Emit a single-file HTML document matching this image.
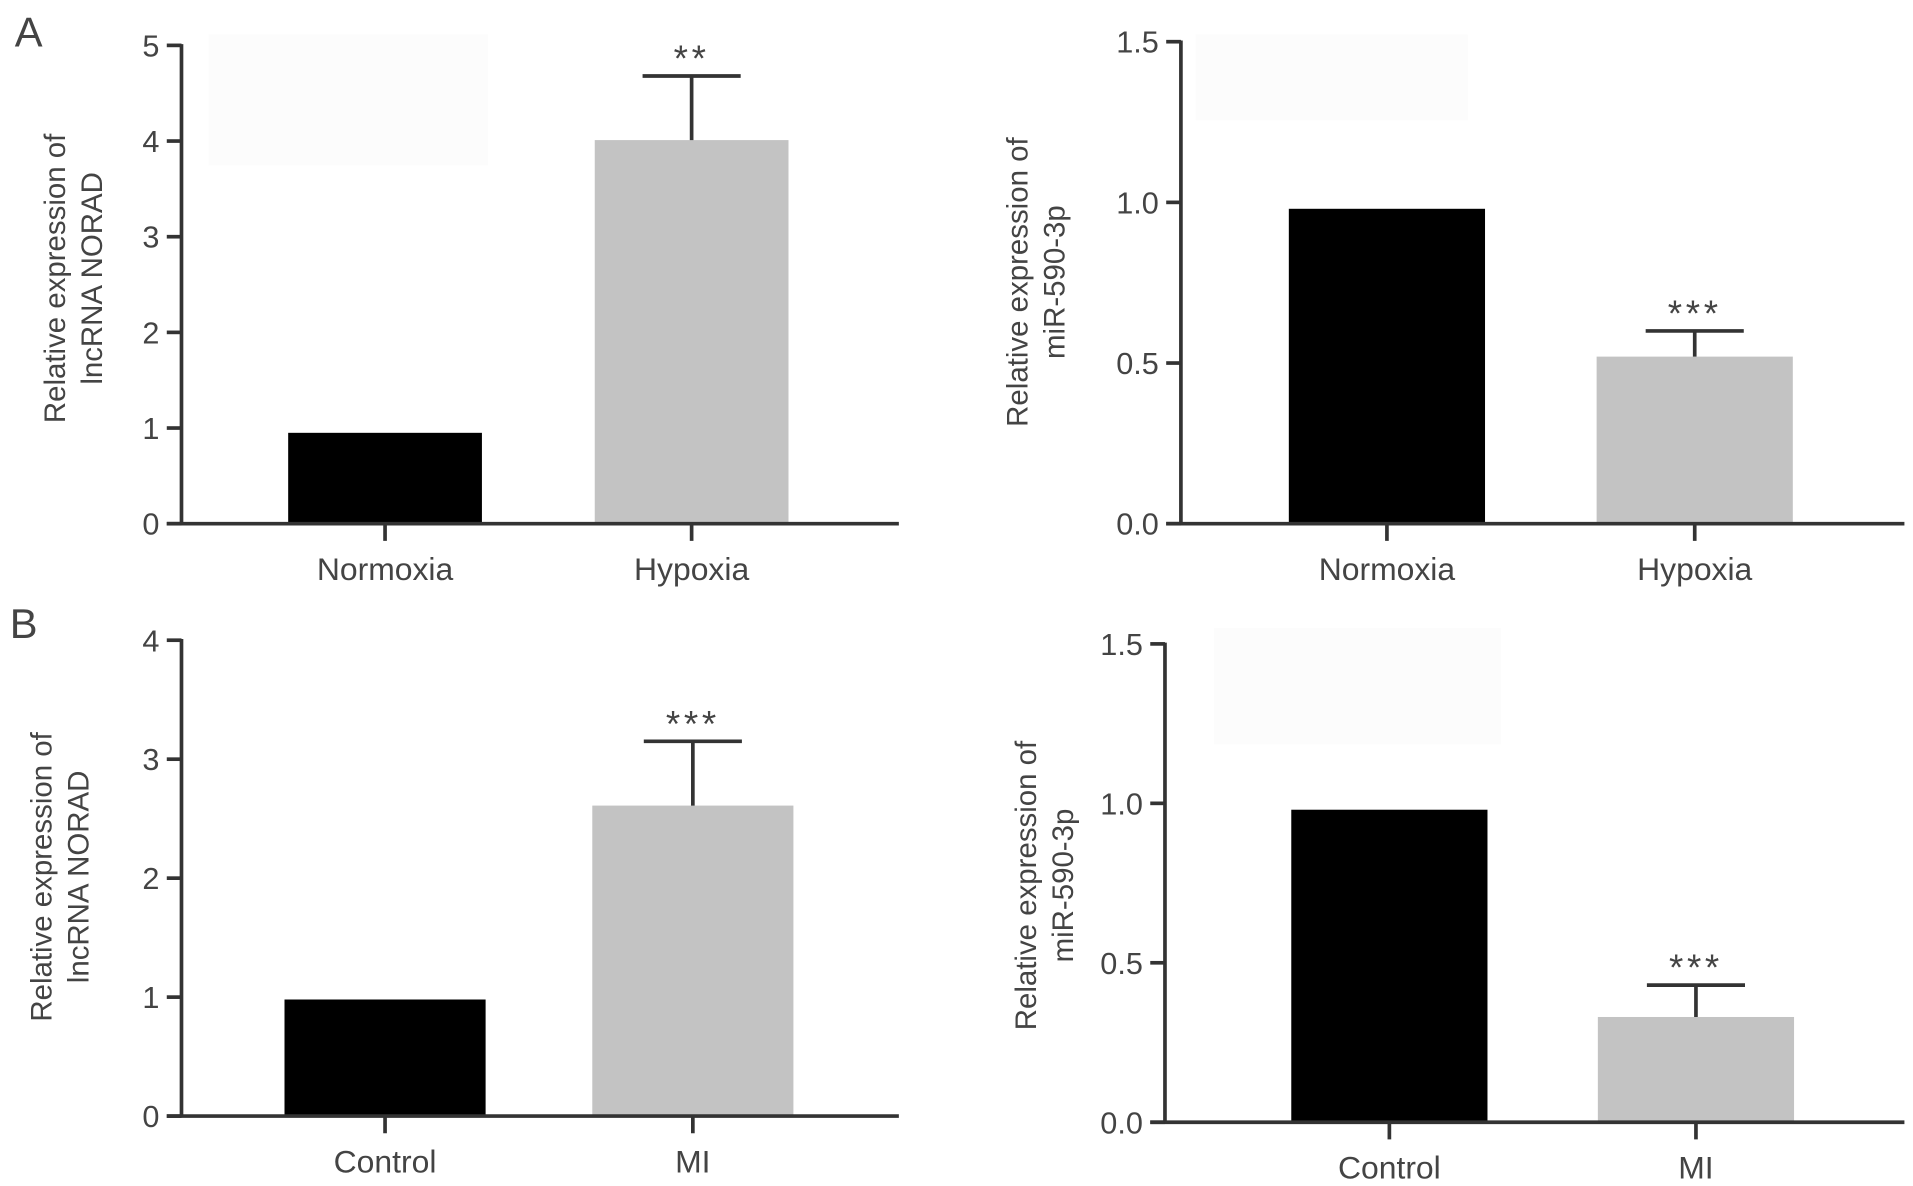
<!DOCTYPE html>
<html><head><meta charset="utf-8">
<style>
html,body{margin:0;padding:0;background:#fff;width:1913px;height:1186px;overflow:hidden}
svg{display:block}
text{font-family:"Liberation Sans",sans-serif;fill:#444}
.n{font-family:"Liberation Sans Narrow","Liberation Sans",sans-serif}
</style></head>
<body>
<svg id="fig" width="1913" height="1186" viewBox="0 0 1560 967" preserveAspectRatio="none" xmlns="http://www.w3.org/2000/svg">
<rect x="170" y="28" width="228" height="107" fill="#fcfcfc"/>
<rect x="975" y="28" width="222" height="70" fill="#fcfcfc"/>
<rect x="990" y="512" width="234" height="95" fill="#fcfcfc"/>
<text x="12" y="38" font-size="34">A</text>
<text x="8" y="520" font-size="34">B</text>
</svg>
<script>
// Panel A left
const aLeftCategories = ["Normoxia", "Hypoxia"];
const aLeftValues = [0.95, 4.01];
const aLeftErrors = [0, 0.67];
const aLeftTicks = ["0", "1", "2", "3", "4", "5"];
const aLeftTickValues = [0, 1, 2, 3, 4, 5];
const aLeftStars = ["", "**"];
// Panel A right
const aRightCategories = ["Normoxia", "Hypoxia"];
const aRightValues = [0.98, 0.52];
const aRightErrors = [0, 0.08];
const aRightTicks = ["0.0", "0.5", "1.0", "1.5"];
const aRightTickValues = [0, 0.5, 1.0, 1.5];
const aRightStars = ["", "***"];
// Panel B left
const bLeftCategories = ["Control", "MI"];
const bLeftValues = [0.98, 2.61];
const bLeftErrors = [0, 0.54];
const bLeftTicks = ["0", "1", "2", "3", "4"];
const bLeftTickValues = [0, 1, 2, 3, 4];
const bLeftStars = ["", "***"];
// Panel B right
const bRightCategories = ["Control", "MI"];
const bRightValues = [0.98, 0.33];
const bRightErrors = [0, 0.10];
const bRightTicks = ["0.0", "0.5", "1.0", "1.5"];
const bRightTickValues = [0, 0.5, 1.0, 1.5];
const bRightStars = ["", "***"];

const NS = "http://www.w3.org/2000/svg";
const svg = document.getElementById("fig");
function mk(tag, attrs, parent) {
  const e = document.createElementNS(NS, tag);
  for (const k in attrs) e.setAttribute(k, attrs[k]);
  (parent || svg).appendChild(e);
  return e;
}
const fills = ["#000", "#c3c3c3"];
function panel(p, cats, vals, errs, ticks, tickVals, stars) {
  const g = mk("g", {});
  
  
  const maxV = tickVals[tickVals.length - 1];
  const y = v => p.y0 - (v / maxV) * (p.y0 - p.yTop);
  const xc = i => p.cx[i];
  const ya = mk("line", {x1: p.ax, y1: p.yTop - 1, x2: p.ax, y2: p.y0 + 1, stroke: "#333", "stroke-width": 3}, g);
  
  
  vals.forEach((v, i) => {
    const r = mk("rect", {x: xc(i) - p.bw / 2, y: y(v), width: p.bw, height: p.y0 - y(v), fill: fills[i]}, g);
    
    
    if (errs[i] > 0) {
      const e1 = mk("line", {x1: xc(i), y1: y(v), x2: xc(i), y2: y(v + errs[i]), stroke: "#333", "stroke-width": 3}, g);
      
      
      const e2 = mk("line", {x1: xc(i) - 40, y1: y(v + errs[i]), x2: xc(i) + 40, y2: y(v + errs[i]), stroke: "#333", "stroke-width": 3}, g);
      
      
    }
    if (stars[i]) {
      const s = mk("text", {x: xc(i), y: y(v + errs[i]) - 4, "font-size": 30, "letter-spacing": 3, "text-anchor": "middle", fill: "#555"}, g);
      s.textContent = stars[i];
      
      
    }
    const tk = mk("line", {x1: xc(i), y1: p.y0, x2: xc(i), y2: p.y0 + 14, stroke: "#333", "stroke-width": 3}, g);
    
    
    const lb = mk("text", {x: xc(i), y: p.y0 + 46, "font-size": 26, "text-anchor": "middle", class: "n"}, g);
    lb.textContent = cats[i];
    
    
  });
  const xa = mk("line", {x1: p.ax - 12, y1: p.y0, x2: p.ax < 500 ? 733 : 1553, y2: p.y0, stroke: "#333", "stroke-width": 3}, g);
  
  
  tickVals.forEach((t, i) => {
    const tl = mk("line", {x1: p.ax - 12, y1: y(t), x2: p.ax, y2: y(t), stroke: "#333", "stroke-width": 3}, g);
    
    
    const tx = mk("text", {x: p.ax - 18, y: y(t) + 9, "font-size": 25, "text-anchor": "end", class: "n"}, g);
    tx.textContent = ticks[i];
    
    
  });
  const tt = mk("text", {transform: `translate(${p.tx},${p.ty}) rotate(-90)`, "font-size": 24, "text-anchor": "middle", fill: "#555"}, g);
  
  
  const t1 = mk("tspan", {x: 0, dy: 0}, tt); t1.textContent = "Relative expression of";
  const t2 = mk("tspan", {x: 0, dy: 30}, tt); t2.textContent = p.title2;
}
panel({name: "chart-a-left", ax: 148, y0: 427, yTop: 37, cx: [314, 564], bw: 158, tx: 53, ty: 227, title2: "lncRNA NORAD"},
  aLeftCategories, aLeftValues, aLeftErrors, aLeftTicks, aLeftTickValues, aLeftStars);
panel({name: "chart-a-right", ax: 963, y0: 427, yTop: 34, cx: [1131, 1382], bw: 160, tx: 838, ty: 230, title2: "miR-590-3p"},
  aRightCategories, aRightValues, aRightErrors, aRightTicks, aRightTickValues, aRightStars);
panel({name: "chart-b-left", ax: 148, y0: 910, yTop: 522, cx: [314, 565], bw: 164, tx: 42, ty: 715, title2: "lncRNA NORAD"},
  bLeftCategories, bLeftValues, bLeftErrors, bLeftTicks, bLeftTickValues, bLeftStars);
panel({name: "chart-b-right", ax: 950, y0: 915, yTop: 525, cx: [1133, 1383], bw: 160, tx: 845, ty: 722, title2: "miR-590-3p"},
  bRightCategories, bRightValues, bRightErrors, bRightTicks, bRightTickValues, bRightStars);
</script>
</body></html>
